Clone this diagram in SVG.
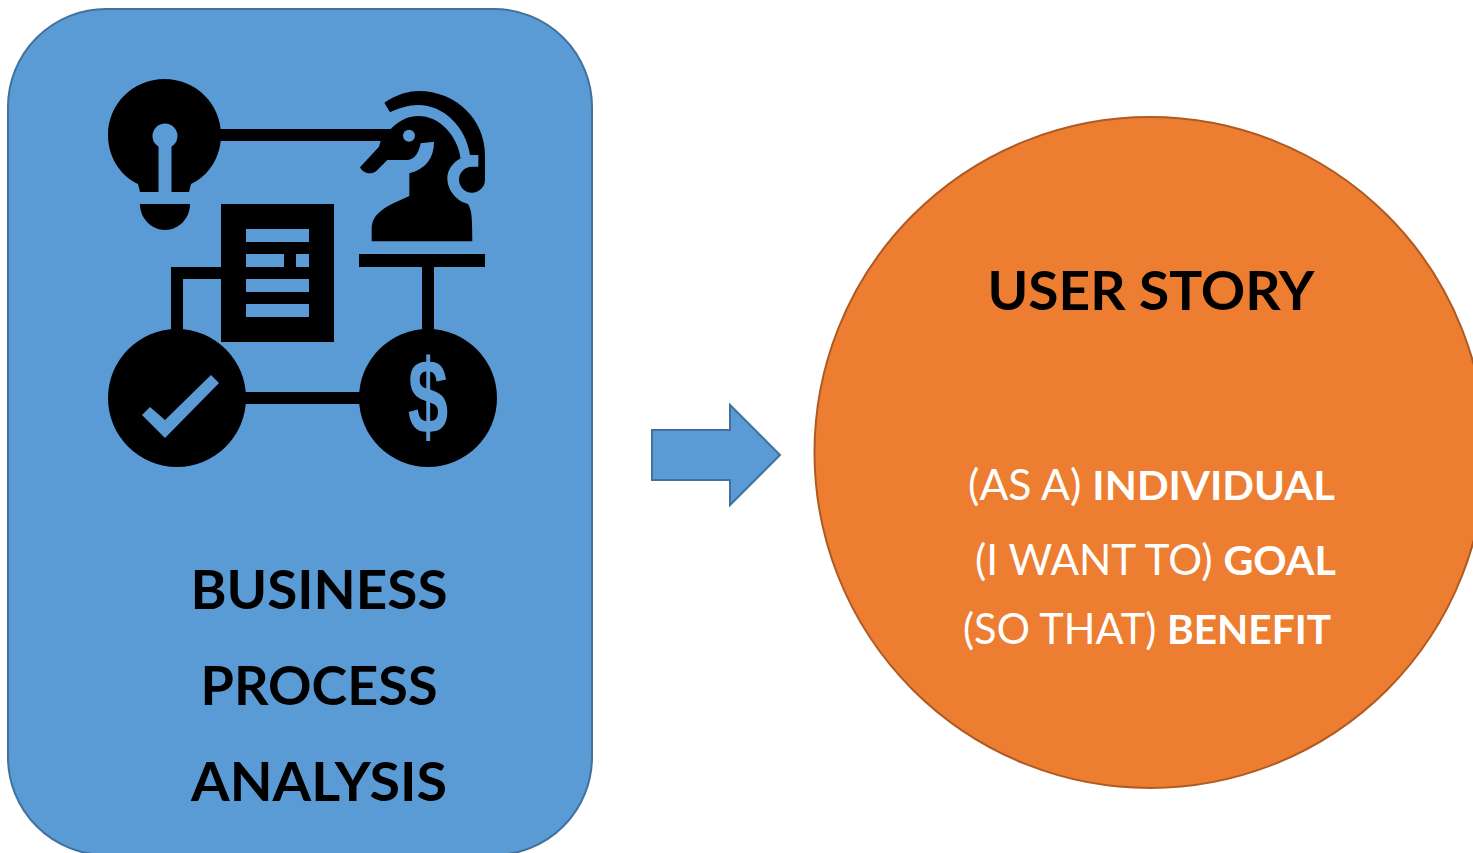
<svg xmlns="http://www.w3.org/2000/svg" width="1473" height="853" viewBox="0 0 1473 853">
<style>
.ink{fill:#000}
.cut{fill:#5B9BD5}
.h{font-family:Lato,"Open Sans",sans-serif;font-weight:700;fill:#000;font-size:53px}
.w{font-family:Lato,"Open Sans",sans-serif;fill:#fff;font-size:42px;font-weight:400}
.b{font-weight:700;font-size:41px}
</style>
<rect width="1473" height="853" fill="#fff"/>
<g id="business-process-analysis">
<rect x="8" y="9" width="584" height="846" rx="98" ry="98" fill="#5B9BD5" stroke="#41719C" stroke-width="2"/>
<g id="icon">
<path class="ink" d="M140,192 L138,184 C119,175 108,156 108,135 C108,104 133,79 164.500,79 C196,79 221,104 221,135 C221,156 210,175 191,184 L189,192 Z"/>
<circle class="cut" cx="165" cy="136" r="12.500"/>
<rect class="cut" x="158.500" y="140" width="13" height="53"/>
<path class="ink" d="M140,204 H190 C190,219 178,230 165,230 C152,230 140,219 140,204 Z"/>
<rect class="ink" x="215" y="129" width="185" height="12"/>
<rect class="ink" x="221" y="204" width="113" height="138"/>
<path class="cut" d="M246,229H309V242H246ZM246,254H284V267H246ZM296,254H309V267H296ZM246,279H309V292H246ZM246,304H309V317H246Z"/>
<path class="ink" d="M171,340V267H225V279H183V340Z"/>
<circle class="ink" cx="177" cy="398" r="69"/>
<circle class="ink" cx="428" cy="398" r="69"/>
<rect class="ink" x="240" y="392" width="125" height="12"/>
<rect class="ink" x="359" y="254" width="126" height="13"/>
<rect class="ink" x="422" y="267" width="12" height="68"/>
<path class="cut" d="M142,415 L150,407 L165,420 L211,375 L219,383 L165,438 Z"/>
<text class="cut" transform="translate(428,433) scale(0.76,1.1)" text-anchor="middle" font-family="Liberation Sans, sans-serif" font-weight="700" font-size="96">$</text>
<g transform="translate(350,80) scale(0.33333)">
<path class="ink" d="M65,484 L65,440 C68,410 90,390 130,370 L178,348 L178,280 C228,266 252,235 252,185 L212,190 C205,225 190,240 170,240 L112,240 L80,272 C60,288 38,278 30,262 L87,200 L92,183 L60,183 L60,147 L122,147 C150,118 178,108 205,108 C268,108 322,165 332,235 C304,250 292,275 292,295 C292,330 320,365 354,372 C364,390 367,400 367,484 Z"/>
<path class="ink" d="M103,68 C140,42 180,33 205,33 C320,33 405,120 405,225 L405,300 A39,39 0 1 1 366,260 L385,260 L385,225 L360,225 C348,140 280,75 205,75 C175,75 145,85 120,97 Z"/>
<circle class="cut" cx="177" cy="167" r="18"/>
</g>
</g>
<text class="h" x="319" y="609" text-anchor="middle" textLength="257" lengthAdjust="spacingAndGlyphs">BUSINESS</text>
<text class="h" x="319" y="705" text-anchor="middle" textLength="237" lengthAdjust="spacingAndGlyphs">PROCESS</text>
<text class="h" x="319" y="801" text-anchor="middle" textLength="256" lengthAdjust="spacingAndGlyphs">ANALYSIS</text>
</g>
<g id="connectors">
<path id="arrow" d="M652,430H730V405L780,455L730,505V480H652Z" fill="#5B9BD5" stroke="#41719C" stroke-width="2"/>
</g>
<g id="user-story">
<ellipse cx="1150" cy="452.500" rx="335.500" ry="335.500" fill="#ED7D31" stroke="#AE5A21" stroke-width="2"/>
<text class="h" x="1151" y="310" text-anchor="middle" textLength="327" lengthAdjust="spacingAndGlyphs">USER STORY</text>
<text class="w" x="968" y="500" textLength="367" lengthAdjust="spacingAndGlyphs">(AS A) <tspan class="b">INDIVIDUAL</tspan></text>
<text class="w" x="975" y="575" textLength="361" lengthAdjust="spacingAndGlyphs">(I WANT TO) <tspan class="b">GOAL</tspan></text>
<text class="w" x="963" y="644" textLength="368" lengthAdjust="spacingAndGlyphs">(SO THAT) <tspan class="b">BENEFIT</tspan></text>
</g>
</svg>
